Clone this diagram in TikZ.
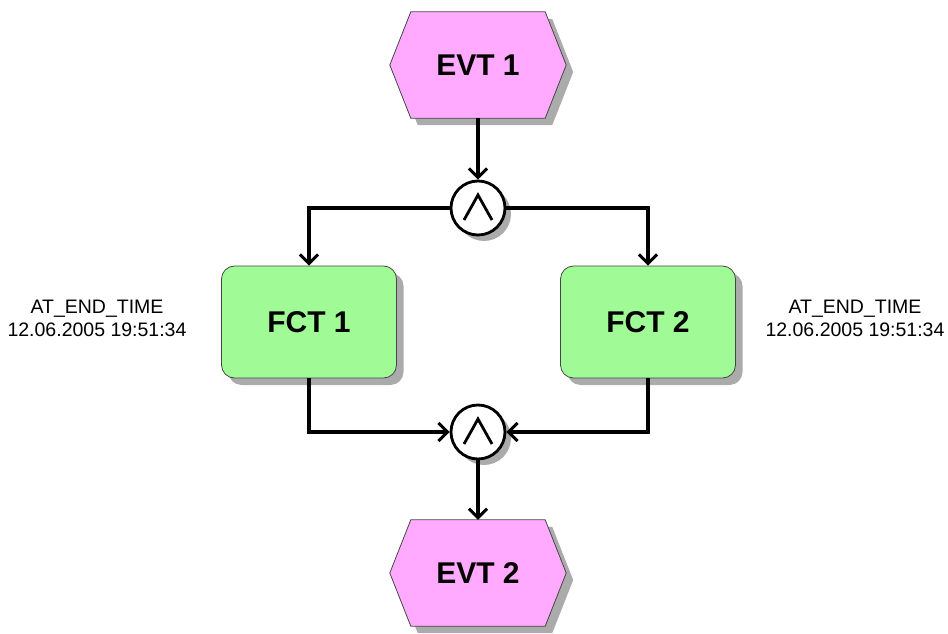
\documentclass[tikz,border=0pt]{standalone}
\usepackage{fontspec}
\setmainfont{Liberation Sans}
\usetikzlibrary{arrows.meta,shadows,calc}
\definecolor{evtpink}{RGB}{255,170,255}
\definecolor{fctgreen}{RGB}{160,250,150}
\definecolor{edgegray}{RGB}{70,70,70}
\definecolor{shadowgray}{RGB}{150,150,150}
\begin{document}
\begin{tikzpicture}[x=1pt,y=-1pt,
  evtbox/.style={minimum width=176pt,minimum height=106pt,inner sep=0pt,font=\fontsize{30}{34}\selectfont\bfseries},
  fctbox/.style={draw=edgegray,line width=0.8pt,fill=fctgreen,rounded corners=13pt,minimum width=175pt,minimum height=112pt,inner sep=0pt,font=\fontsize{30}{34}\selectfont\bfseries,
     drop shadow={shadow xshift=7pt,shadow yshift=-7pt,fill=shadowgray,opacity=0.8}},
  andop/.style={circle,draw=black,line width=2.8pt,fill=white,minimum size=54pt,inner sep=0pt,
     drop shadow={shadow xshift=6pt,shadow yshift=-6pt,fill=shadowgray,opacity=0.8}},
  flow/.style={line width=3.2pt,-{Straight Barb[length=9pt,width=18pt,line width=3pt]}},
  attr/.style={align=center,font=\fontsize{19.5}{23}\selectfont,inner sep=0pt}]
\useasboundingbox (0,0) rectangle (948,634);

% event nodes (text and anchors)
\node[evtbox] (e1) at (478,65) {EVT 1};
\node[evtbox] (e2) at (478,573) {EVT 2};

% hexagon outlines with shadows
\foreach \n in {e1,e2}{
  \begin{scope}[transform canvas={shift={(7pt,-7pt)}}]
  \fill[shadowgray,opacity=0.8]
    ($(\n.north west)+(21,0)$) -- ($(\n.north east)+(-21,0)$) -- (\n.east) --
    ($(\n.south east)+(-21,0)$) -- ($(\n.south west)+(21,0)$) -- (\n.west) -- cycle;
  \end{scope}
  \filldraw[fill=evtpink,draw=edgegray,line width=0.8pt]
    ($(\n.north west)+(21,0)$) -- ($(\n.north east)+(-21,0)$) -- (\n.east) --
    ($(\n.south east)+(-21,0)$) -- ($(\n.south west)+(21,0)$) -- (\n.west) -- cycle;
}
\node[evtbox] at (e1) {EVT 1};
\node[evtbox] at (e2) {EVT 2};

% functions
\node[fctbox] (f1) at (309,322) {FCT 1};
\node[fctbox] (f2) at (648,322) {FCT 2};

% AND operators
\node[andop] (a1) at (478,208) {};
\node[andop] (a2) at (478,432) {};
\foreach \n in {a1,a2}{
  \draw[line width=2.8pt,line join=miter] ($(\n)+(-14,12)$) -- ($(\n)+(0,-13)$) -- ($(\n)+(14,12)$);
}

% attribute texts
\node[attr] (t1) at (97,318) {AT\_END\_TIME\\12.06.2005 19:51:34};
\node[attr] (t2) at (855,318) {AT\_END\_TIME\\12.06.2005 19:51:34};

% connectors
\draw[flow] (e1.south) -- (a1.north);
\draw[flow] (a1.west) -| (f1.north);
\draw[flow] (a1.east) -| (f2.north);
\draw[flow] (f1.south) |- (a2.west);
\draw[flow] (f2.south) |- (a2.east);
\draw[flow] (a2.south) -- (e2.north);
\end{tikzpicture}
\end{document}
